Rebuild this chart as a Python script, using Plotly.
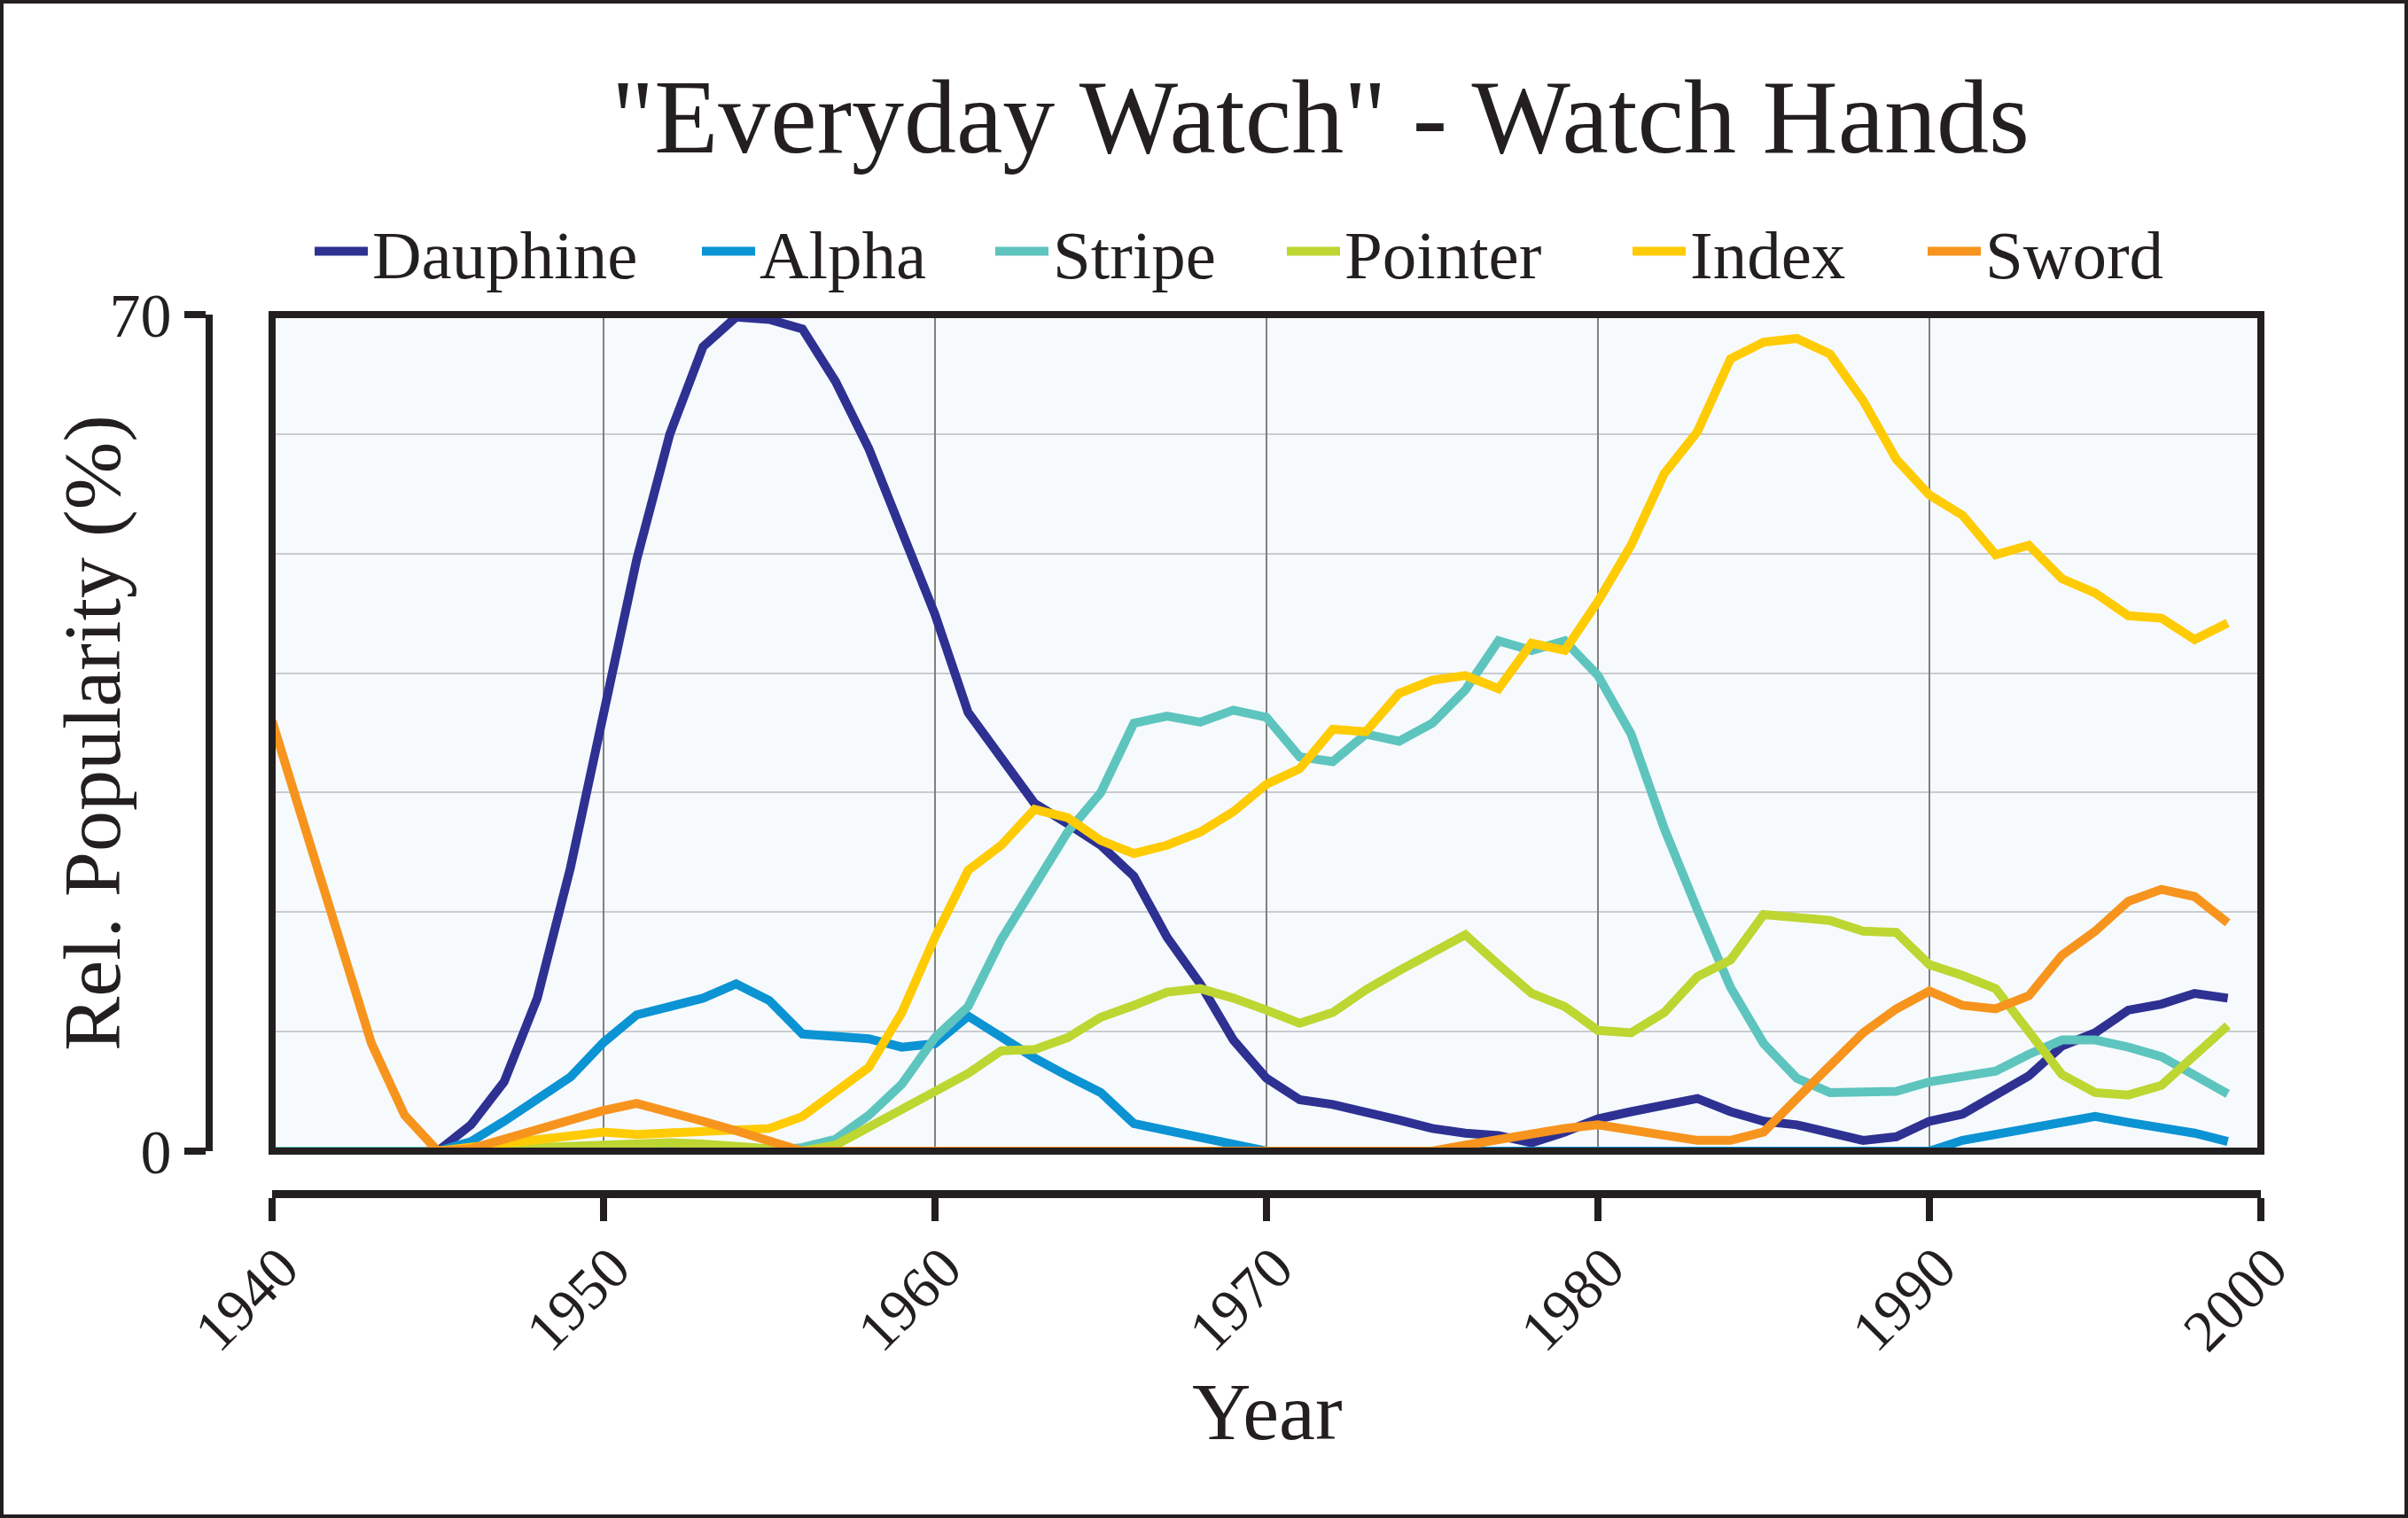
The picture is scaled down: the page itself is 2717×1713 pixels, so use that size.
import plotly.graph_objects as go

# ---------------- data ----------------
years = list(range(1940, 2000))

dauphine = [None, None, None, None, None,
            0, 2.2, 5.8, 12.8, 23.7, 36.7, 49.5, 60.0, 67.3, 69.8,
            69.6, 68.8, 64.4, 58.8, 51.9, 44.9, 36.7, 33.0, 29.1, 27.4,
            25.6, 23.0, 17.9, 14.0, 9.3, 6.1, 4.3, 3.9, 3.3, 2.6,
            1.9, 1.5, 1.3, 0.7, 1.6, 2.7, 3.3, 3.8, 4.4, 3.3,
            2.5, 2.2, 1.6, 0.9, 1.2, 2.5, 3.1, 4.8, 6.3, 8.8,
            9.9, 11.8, 12.3, 13.2, 12.8]

alpha = [None, None, None, None, None,
         0, 0.8, 2.5, 4.3, 6.2, 9.1, 11.4, 12.1, 12.8, 14.0,
         12.6, 9.8, 9.6, 9.4, 8.7, 9.0, 11.3, 9.5, 7.8, 6.3,
         4.9, 2.3, 1.7, 1.2, 0.6, 0, 0, 0, 0, 0,
         0, 0, 0, 0, 0, 0, 0, 0, 0, 0,
         0, 0, 0, 0, 0, 0, 0.9, 1.4, 1.9, 2.3,
         2.9, 2.4, 2.0, 1.5, 0.8]

stripe = [0, 0, 0, 0, 0,
          0, 0, 0, 0, 0, 0, 0, 0, 0, 0,
          0, 0.3, 1.0, 3.0, 5.6, 9.5, 12.1, 17.7, 22.3, 26.7,
          30.0, 35.8, 36.4, 35.9, 36.9, 36.3, 33.0, 32.6, 34.9, 34.3,
          35.8, 38.6, 42.7, 41.9, 42.7, 39.8, 34.9, 27.0, 20.2, 13.7,
          9.0, 6.1, 4.9, 5.0, 5.0, 5.8, 6.3, 6.7, 8.1, 9.3,
          9.3, 8.7, 7.9, 6.4, 4.8]

pointer = [None, None, None, None, None,
           0, 0.1, 0.2, 0.4, 0.5, 0.6, 0.7, 0.7, 0.6, 0.4,
           0.2, 0, 0.5, 2.1, 3.5, 5.0, 6.5, 8.4, 8.5, 9.5,
           11.2, 12.2, 13.3, 13.6, 12.8, 11.8, 10.7, 11.6, 13.5, 15.1,
           16.5, 18.1, 15.6, 13.2, 12.1, 10.1, 9.9, 11.6, 14.6, 16.0,
           19.8, 19.5, 19.3, 18.4, 18.3, 15.6, 14.7, 13.6, 10.0, 6.4,
           4.9, 4.7, 5.5, 8.0, 10.5]

index_ = [None, None, None, None, None,
          0, 0.3, 0.6, 1.0, 1.3, 1.6, 1.4, 1.5, 1.6, 1.7,
          1.9, 2.9, 4.9, 7.0, 11.6, 17.9, 23.5, 25.6, 28.6, 27.9,
          26.0, 24.9, 25.6, 26.7, 28.4, 30.7, 32.0, 35.3, 35.1, 38.3,
          39.4, 39.8, 38.7, 42.5, 41.9, 46.0, 50.7, 56.7, 60.2, 66.3,
          67.7, 68.0, 66.7, 62.8, 57.9, 54.9, 53.2, 49.9, 50.7, 47.9,
          46.7, 44.8, 44.6, 42.8, 44.2]

sword = [36.0, 27.0, 18.0, 9.0, 3.0,
         0, 0.2, 1.0, 1.8, 2.6, 3.4, 4.0, 3.3, 2.5, 1.7,
         0.9, 0, 0, 0, 0, 0, 0, 0, 0, 0,
         0, 0, 0, 0, 0, 0, 0, 0, 0, 0,
         0, 0.5, 1.0, 1.5, 1.9, 2.2, 1.8, 1.4, 0.9, 0.9,
         1.6, 4.4, 7.2, 9.9, 11.9, 13.4, 12.2, 11.9, 13.0, 16.4,
         18.4, 20.9, 21.9, 21.3, 19.1]

series_names = ["Dauphine", "Alpha", "Stripe", "Pointer", "Index", "Sword"]
series_values = [dauphine, alpha, stripe, pointer, index_, sword]
series_colors = ["#2E3192", "#0B93D3", "#5EC4BE", "#BDD631", "#FFCB05", "#F7941E"]

x_tick_vals = [1940, 1950, 1960, 1970, 1980, 1990, 2000]
y_tick_vals = [0, 70]
y_grid_vals = [10, 20, 30, 40, 50, 60]

title_text = '"Everyday Watch" - Watch Hands'
x_title = "Year"
y_title = "Rel. Popularity (%)"

# ---------------- layout geometry ----------------
W, H = 2717, 1713
ML, MR, MT, MB = 200, 150, 300, 300
PW, PH = W - ML - MR, H - MT - MB

def px_x(px):
    return (px - ML) / PW

def px_y(py):
    return (H - MB - py) / PH

FONT = "Liberation Serif"
INK = "#231F20"

plot_left, plot_right, plot_top, plot_bottom = 307, 2551, 355, 1299
xaxis_line_y = 1346.5
yaxis_line_x = 235.5
legend_sym_left = [355, 792, 1123, 1452, 1842, 2175]
legend_center_y = 284

fig = go.Figure()
legend_ids = ["legend", "legend2", "legend3", "legend4", "legend5", "legend6"]
for name, vals, col, lid in zip(series_names, series_values, series_colors, legend_ids):
    fig.add_trace(go.Scatter(
        x=years, y=vals, name=name, mode="lines",
        line=dict(color=col, width=10),
        connectgaps=False, legend=lid,
    ))

legend_common = dict(
    orientation="h", xanchor="left", yanchor="middle",
    font=dict(family=FONT, size=77, color=INK),
    itemwidth=60, bgcolor="rgba(0,0,0,0)", borderwidth=0,
)
legend_layout = {}
for lid, sx in zip(legend_ids, legend_sym_left):
    legend_layout[lid] = dict(legend_common, x=px_x(sx - 5), y=px_y(legend_center_y))

fig.update_layout(
    width=W, height=H,
    margin=dict(l=ML, r=MR, t=MT, b=MB, autoexpand=False),
    paper_bgcolor="white",
    plot_bgcolor="#F6FAFD",
    font=dict(family=FONT, color=INK),
    showlegend=True,
    title=dict(
        text=title_text, x=1490 / W, xanchor="center",
        y=1 - 131 / H, yanchor="middle", yref="container", xref="container",
        font=dict(family=FONT, size=118, color=INK),
    ),
    xaxis=dict(
        domain=[px_x(plot_left), px_x(plot_right)],
        range=[1940, 2000],
        anchor="free", position=px_y(xaxis_line_y),
        showline=True, linewidth=9, linecolor=INK,
        ticks="outside", ticklen=26, tickwidth=8, tickcolor=INK,
        tickmode="array", tickvals=x_tick_vals,
        tickangle=-45, ticklabelshift=10, ticklabelstandoff=-12,
        tickfont=dict(family=FONT, size=66, color=INK),
        showgrid=True, gridcolor="#808080", gridwidth=2,
        zeroline=False,
        automargin=False,
    ),
    yaxis=dict(
        domain=[px_y(plot_bottom), px_y(plot_top)],
        range=[0, 70],
        anchor="free", position=px_x(yaxis_line_x),
        showline=True, linewidth=8, linecolor=INK,
        ticks="outside", ticklen=24, tickwidth=8, tickcolor=INK,
        tickmode="array", tickvals=y_tick_vals,
        tickfont=dict(family=FONT, size=70, color=INK),
        showgrid=False, zeroline=False,
        minor=dict(tickvals=y_grid_vals, showgrid=True, gridcolor="#C9CBCE",
                   gridwidth=2, ticks=""),
        automargin=False,
    ),
    annotations=[
        dict(text=y_title, textangle=-90, xref="paper", yref="paper",
             x=px_x(104), y=px_y(827), xanchor="center", yanchor="middle",
             showarrow=False, font=dict(family=FONT, size=92, color=INK)),
        dict(text=x_title, xref="paper", yref="paper",
             x=px_x(1430), y=px_y(1593), xanchor="center", yanchor="middle",
             showarrow=False, font=dict(family=FONT, size=92, color=INK)),
    ],
    shapes=[
        dict(type="rect", xref="x domain", yref="y domain", x0=0, x1=1, y0=0, y1=1,
             line=dict(color=INK, width=8), fillcolor="rgba(0,0,0,0)", layer="above"),
        dict(type="rect", xref="paper", yref="paper",
             x0=px_x(2), x1=px_x(W - 2), y0=px_y(H - 2), y1=px_y(2),
             line=dict(color=INK, width=4), fillcolor="rgba(0,0,0,0)", layer="above"),
    ],
    **legend_layout,
)

fig.write_html("out.html", config={"displayModeBar": False},
               post_script="document.body.style.margin='0';document.body.style.overflow='hidden';")
